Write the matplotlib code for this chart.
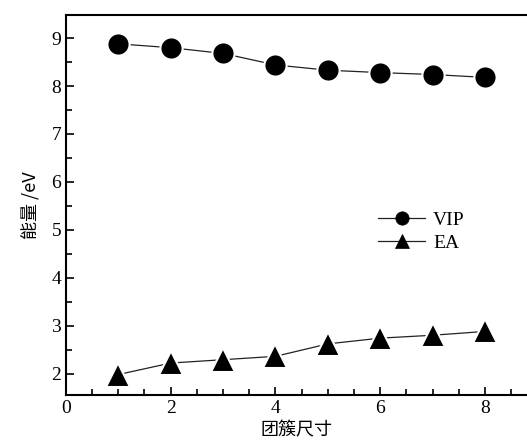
import matplotlib.pyplot as plt
from matplotlib.ticker import MultipleLocator

plt.rcParams['font.family'] = ['Liberation Serif', 'DejaVu Serif']

# cluster size and energies (eV)
sizes = [1, 2, 3, 4, 5, 6, 7, 8]
vip = [8.88, 8.80, 8.68, 8.44, 8.33, 8.28, 8.24, 8.18]
ea = [1.98, 2.22, 2.29, 2.36, 2.62, 2.74, 2.80, 2.88]

fig = plt.figure(figsize=(5.27, 4.44), dpi=100)
ax = fig.add_axes([0.125, 0.110, 0.875, 0.856])

ax.plot(sizes, vip, color='#222222', lw=0.9, marker='o', ms=16,
        mfc='black', mec='white', mew=1.5, label='VIP')
ax.plot(sizes, ea, color='#222222', lw=0.9, marker='^', ms=17,
        mfc='black', mec='white', mew=1.5, label='EA')

ax.set_xlim(0, 8.8)
ax.set_ylim(1.55, 9.48)
ax.xaxis.set_major_locator(MultipleLocator(2))
ax.xaxis.set_minor_locator(MultipleLocator(0.5))
ax.yaxis.set_major_locator(MultipleLocator(1))
ax.yaxis.set_minor_locator(MultipleLocator(0.5))
ax.tick_params(which='both', direction='in', top=False, right=False,
               labelsize=14, width=1.2)
ax.tick_params(which='major', length=6)
ax.tick_params(which='minor', length=4)
ax.spines['right'].set_visible(False)
for s in ['left', 'bottom', 'top']:
    ax.spines[s].set_linewidth(1.5)

ax.set_xlabel('团簇尺寸', family=['Noto Sans CJK SC'], fontsize=13, labelpad=3)
ax.set_ylabel('能量 /eV', family=['Noto Sans CJK SC', 'Liberation Serif'],
              fontsize=13, labelpad=8)

leg = ax.legend(loc='center left', bbox_to_anchor=(0.64, 0.43, 0.2, 0.0),
                frameon=False, fontsize=14, handlelength=2.4,
                labelspacing=0.3, handletextpad=0.4, markerscale=0.6)
for h in leg.legend_handles:
    h.set_markeredgecolor('black')
    h.set_markeredgewidth(0.5)

fig.savefig('out.png', dpi=100)
